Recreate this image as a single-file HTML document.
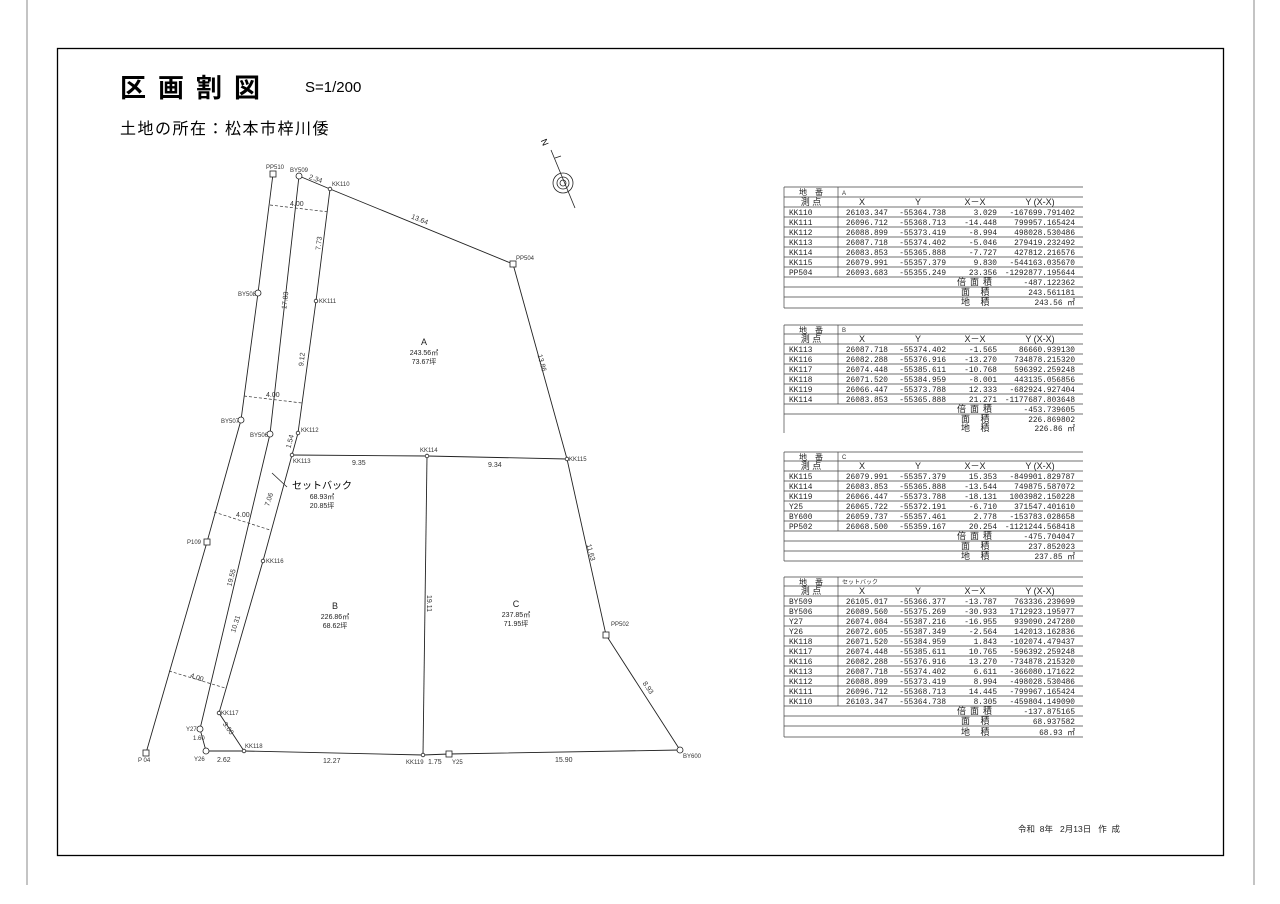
<!DOCTYPE html>
<html><head><meta charset="utf-8"><style>
html,body{margin:0;padding:0;background:#fff}
svg{display:block}
.t{font-family:"Liberation Mono","Noto Sans CJK JP",monospace;font-size:7.8px;fill:#222}
.h{font-family:"Liberation Sans","Noto Sans CJK JP",sans-serif;font-size:9px;fill:#222}
.s{font-family:"Liberation Sans","Noto Sans CJK JP",sans-serif;font-size:6px;fill:#333}
.d{font-family:"Liberation Sans",sans-serif;font-size:7px;fill:#333}
.m{font-family:"Liberation Sans","Noto Sans CJK JP",sans-serif;font-size:7px;fill:#222;text-anchor:middle}
</style></head><body>
<svg width="1280" height="904" viewBox="0 0 1280 904" xmlns="http://www.w3.org/2000/svg">
<line x1="27" y1="0" x2="27" y2="885" stroke="#888" stroke-width="1"/>
<line x1="1254" y1="0" x2="1254" y2="885" stroke="#888" stroke-width="1"/>
<rect x="57.5" y="48.5" width="1166" height="807" fill="none" stroke="#000" stroke-width="1.3"/>
<text x="120" y="97" font-family="Liberation Sans,Noto Sans CJK JP,sans-serif" font-size="26" font-weight="bold" letter-spacing="12">区画割図</text>
<text x="305" y="92" font-family="Liberation Sans,sans-serif" font-size="15">S=1/200</text>
<text x="120" y="134" font-family="Liberation Sans,Noto Sans CJK JP,sans-serif" font-size="16" letter-spacing="1.5">土地の所在：松本市梓川倭</text>

<g stroke="#222" fill="none" stroke-width="0.8">
<line x1="551" y1="150" x2="575" y2="208"/>
<circle cx="563" cy="183" r="10"/><circle cx="563" cy="183" r="6"/><circle cx="563" cy="183" r="3"/>
<path d="M555 158 l6 -2"/>
</g>
<text x="541" y="146" font-family="Liberation Sans,sans-serif" font-size="9" transform="rotate(67 545 143)">N</text>

<g stroke="#222" fill="none" stroke-width="0.9">
<polyline points="273,174 258,293 241,420 207,542 146,753"/>
<polyline points="299,176 270,434 200,729 206,751"/>
<polyline points="206,751 244,751 423,755 449,754 680,750"/>
<polyline points="299,176 330,189 513,264 567,459 606,635 680,750"/>
<polyline points="330,189 316,301 298,433 292,455 263,561 219,713 244,751"/>
<polyline points="292,455 427,456 567,459"/>
<line x1="427" y1="456" x2="423" y2="755"/>
</g>
<g stroke="#333" stroke-width="0.7" stroke-dasharray="3,2">
<line x1="270" y1="205" x2="329" y2="212"/>
<line x1="244" y1="396" x2="302" y2="403"/>
<line x1="214" y1="512" x2="270" y2="530"/>
<line x1="169" y1="671" x2="225" y2="688"/>
</g>
<line x1="272" y1="473" x2="287" y2="487" stroke="#222" stroke-width="0.8"/>
<g fill="#fff" stroke="#222" stroke-width="0.8">
<rect x="270" y="171" width="6" height="6"/><rect x="510" y="261" width="6" height="6"/><rect x="603" y="632" width="6" height="6"/>
<rect x="204" y="539" width="6" height="6"/><rect x="143" y="750" width="6" height="6"/><rect x="446" y="751" width="6" height="6"/>
<circle cx="299" cy="176" r="3"/><circle cx="258" cy="293" r="3"/><circle cx="241" cy="420" r="3"/><circle cx="270" cy="434" r="3"/>
<circle cx="200" cy="729" r="3"/><circle cx="206" cy="751" r="3"/><circle cx="680" cy="750" r="3"/>
<circle cx="330" cy="189" r="1.8"/><circle cx="316" cy="301" r="1.8"/><circle cx="298" cy="433" r="1.8"/><circle cx="292" cy="455" r="1.8"/>
<circle cx="263" cy="561" r="1.8"/><circle cx="219" cy="713" r="1.8"/><circle cx="244" cy="751" r="1.8"/><circle cx="427" cy="456" r="1.8"/>
<circle cx="567" cy="459" r="1.8"/><circle cx="423" cy="755" r="1.8"/>
</g>
<g class="s">
<text x="266" y="169">PP510</text><text x="290" y="172">BY509</text><text x="332" y="186">KK110</text><text x="516" y="260">PP504</text>
<text x="238" y="296">BY508</text><text x="319" y="303">KK111</text><text x="221" y="423">BY507</text><text x="250" y="437">BY506</text>
<text x="301" y="432">KK112</text><text x="293" y="463">KK113</text><text x="420" y="452">KK114</text><text x="569" y="461">KK115</text>
<text x="266" y="563">KK116</text><text x="187" y="544">P109</text><text x="611" y="626">PP502</text><text x="221" y="715">KK117</text>
<text x="186" y="731">Y27</text><text x="193" y="740">1.60</text><text x="138" y="762">P 04</text><text x="194" y="761">Y26</text><text x="245" y="748">KK118</text>
<text x="406" y="764">KK119</text><text x="452" y="764">Y25</text><text x="683" y="758">BY600</text>
</g>
<g class="d">
<text x="308" y="181" transform="rotate(20 315 181)">2.34</text>
<text x="290" y="206">4.00</text>
<text x="410" y="222" transform="rotate(22 420 222)">13.64</text>
<text x="312" y="247" transform="rotate(-83 318 244)">7.73</text>
<text x="278" y="306" transform="rotate(-83 284 303)">17.83</text>
<text x="295" y="363" transform="rotate(-83 301 360)">9.12</text>
<text x="536" y="363" transform="rotate(75 542 360)">13.86</text>
<text x="266" y="397">4.00</text>
<text x="283" y="445" transform="rotate(-75 289 442)">1.54</text>
<text x="352" y="465">9.35</text><text x="488" y="467">9.34</text>
<text x="262" y="503" transform="rotate(-72 268 500)">7.06</text>
<text x="236" y="517">4.00</text>
<text x="584" y="552" transform="rotate(75 590 550)">11.63</text>
<text x="220" y="580" transform="rotate(-75 230 576)">19.55</text>
<text x="227" y="630" transform="rotate(-72 233 626)">10.31</text>
<text x="420" y="606" transform="rotate(90 429 604)">19.11</text>
<text x="190" y="680" transform="rotate(18 198 678)">4.00</text>
<text x="641" y="690" transform="rotate(55 648 688)">8.93</text>
<text x="222" y="729" transform="rotate(55 227 727)">3.00</text>
<text x="217" y="762">2.62</text><text x="323" y="763">12.27</text><text x="428" y="764">1.75</text><text x="555" y="762">15.90</text>
</g>
<text x="292" y="489" font-family="Liberation Sans,Noto Sans CJK JP,sans-serif" font-size="10">セットバック</text>
<g class="m">
<text x="322" y="499">68.93㎡</text><text x="322" y="508">20.85坪</text>
<text x="424" y="345" font-size="9">A</text><text x="424" y="355">243.56㎡</text><text x="424" y="364">73.67坪</text>
<text x="335" y="609" font-size="9">B</text><text x="335" y="619">226.86㎡</text><text x="335" y="628">68.62坪</text>
<text x="516" y="607" font-size="9">C</text><text x="516" y="617">237.85㎡</text><text x="516" y="626">71.95坪</text>
</g>

<g stroke="#444" stroke-width="0.7" fill="none">
<path d="M784 187H1083M784 197H1083M784 207H1083M784 217H1083M784 227H1083M784 237H1083M784 247H1083M784 257H1083M784 267H1083M784 277H1083M784 287H1083M784 297H1083M784 308H1083M784 187V308M838 187V277"/>
<path d="M784 325H1083M784 334H1083M784 344H1083M784 354H1083M784 364H1083M784 374H1083M784 384H1083M784 394H1083M784 404H1083M784 414H1083M784 325V433M838 325V404"/>
<path d="M784 452H1083M784 461H1083M784 471H1083M784 481H1083M784 491H1083M784 501H1083M784 511H1083M784 521H1083M784 531H1083M784 541H1083M784 551H1083M784 561H1083M784 452V561M838 452V531"/>
<path d="M784 577H1083M784 586H1083M784 596H1083M784 606H1083M784 616H1083M784 626H1083M784 636H1083M784 646H1083M784 656H1083M784 666H1083M784 676H1083M784 686H1083M784 696H1083M784 706H1083M784 716H1083M784 726H1083M784 737H1083M784 577V737M838 577V706"/>
</g>

<g class="h" text-anchor="middle">
<text x="811" y="195" font-size="8">地　番</text><text x="811" y="205">測 点</text><text x="862" y="205">X</text><text x="918" y="205">Y</text><text x="975" y="205">X－X</text><text x="1040" y="205">Y (X-X)</text>
<text x="811" y="333" font-size="8">地　番</text><text x="811" y="342">測 点</text><text x="862" y="342">X</text><text x="918" y="342">Y</text><text x="975" y="342">X－X</text><text x="1040" y="342">Y (X-X)</text>
<text x="811" y="460" font-size="8">地　番</text><text x="811" y="469">測 点</text><text x="862" y="469">X</text><text x="918" y="469">Y</text><text x="975" y="469">X－X</text><text x="1040" y="469">Y (X-X)</text>
<text x="811" y="585" font-size="8">地　番</text><text x="811" y="594">測 点</text><text x="862" y="594">X</text><text x="918" y="594">Y</text><text x="975" y="594">X－X</text><text x="1040" y="594">Y (X-X)</text>
</g>
<g class="s" font-size="7"><text x="842" y="195">A</text><text x="842" y="332">B</text><text x="842" y="459">C</text><text x="842" y="584">セットバック</text></g>

<g class="t" text-anchor="end">
<text y="215"><tspan x="789" text-anchor="start">KK110</tspan><tspan x="888">26103.347</tspan><tspan x="946">-55364.738</tspan><tspan x="997">3.029</tspan><tspan x="1075">-167699.791402</tspan></text>
<text y="225"><tspan x="789" text-anchor="start">KK111</tspan><tspan x="888">26096.712</tspan><tspan x="946">-55368.713</tspan><tspan x="997">-14.448</tspan><tspan x="1075">799957.165424</tspan></text>
<text y="235"><tspan x="789" text-anchor="start">KK112</tspan><tspan x="888">26088.899</tspan><tspan x="946">-55373.419</tspan><tspan x="997">-8.994</tspan><tspan x="1075">498028.530486</tspan></text>
<text y="245"><tspan x="789" text-anchor="start">KK113</tspan><tspan x="888">26087.718</tspan><tspan x="946">-55374.402</tspan><tspan x="997">-5.046</tspan><tspan x="1075">279419.232492</tspan></text>
<text y="255"><tspan x="789" text-anchor="start">KK114</tspan><tspan x="888">26083.853</tspan><tspan x="946">-55365.888</tspan><tspan x="997">-7.727</tspan><tspan x="1075">427812.216576</tspan></text>
<text y="265"><tspan x="789" text-anchor="start">KK115</tspan><tspan x="888">26079.991</tspan><tspan x="946">-55357.379</tspan><tspan x="997">9.830</tspan><tspan x="1075">-544163.035670</tspan></text>
<text y="275"><tspan x="789" text-anchor="start">PP504</tspan><tspan x="888">26093.683</tspan><tspan x="946">-55355.249</tspan><tspan x="997">23.356</tspan><tspan x="1075">-1292877.195644</tspan></text>
<text y="285"><tspan x="1075">-487.122362</tspan></text><text y="295"><tspan x="1075">243.561181</tspan></text><text y="305"><tspan x="1075">243.56 ㎡</tspan></text>

<text y="352"><tspan x="789" text-anchor="start">KK113</tspan><tspan x="888">26087.718</tspan><tspan x="946">-55374.402</tspan><tspan x="997">-1.565</tspan><tspan x="1075">86660.939130</tspan></text>
<text y="362"><tspan x="789" text-anchor="start">KK116</tspan><tspan x="888">26082.288</tspan><tspan x="946">-55376.916</tspan><tspan x="997">-13.270</tspan><tspan x="1075">734878.215320</tspan></text>
<text y="372"><tspan x="789" text-anchor="start">KK117</tspan><tspan x="888">26074.448</tspan><tspan x="946">-55385.611</tspan><tspan x="997">-10.768</tspan><tspan x="1075">596392.259248</tspan></text>
<text y="382"><tspan x="789" text-anchor="start">KK118</tspan><tspan x="888">26071.520</tspan><tspan x="946">-55384.959</tspan><tspan x="997">-8.001</tspan><tspan x="1075">443135.056856</tspan></text>
<text y="392"><tspan x="789" text-anchor="start">KK119</tspan><tspan x="888">26066.447</tspan><tspan x="946">-55373.788</tspan><tspan x="997">12.333</tspan><tspan x="1075">-682924.927404</tspan></text>
<text y="402"><tspan x="789" text-anchor="start">KK114</tspan><tspan x="888">26083.853</tspan><tspan x="946">-55365.888</tspan><tspan x="997">21.271</tspan><tspan x="1075">-1177687.803648</tspan></text>
<text y="412"><tspan x="1075">-453.739605</tspan></text><text y="422"><tspan x="1075">226.869802</tspan></text><text y="431"><tspan x="1075">226.86 ㎡</tspan></text>

<text y="479"><tspan x="789" text-anchor="start">KK115</tspan><tspan x="888">26079.991</tspan><tspan x="946">-55357.379</tspan><tspan x="997">15.353</tspan><tspan x="1075">-849901.829787</tspan></text>
<text y="489"><tspan x="789" text-anchor="start">KK114</tspan><tspan x="888">26083.853</tspan><tspan x="946">-55365.888</tspan><tspan x="997">-13.544</tspan><tspan x="1075">749875.587072</tspan></text>
<text y="499"><tspan x="789" text-anchor="start">KK119</tspan><tspan x="888">26066.447</tspan><tspan x="946">-55373.788</tspan><tspan x="997">-18.131</tspan><tspan x="1075">1003982.150228</tspan></text>
<text y="509"><tspan x="789" text-anchor="start">Y25</tspan><tspan x="888">26065.722</tspan><tspan x="946">-55372.191</tspan><tspan x="997">-6.710</tspan><tspan x="1075">371547.401610</tspan></text>
<text y="519"><tspan x="789" text-anchor="start">BY600</tspan><tspan x="888">26059.737</tspan><tspan x="946">-55357.461</tspan><tspan x="997">2.778</tspan><tspan x="1075">-153783.028658</tspan></text>
<text y="529"><tspan x="789" text-anchor="start">PP502</tspan><tspan x="888">26068.500</tspan><tspan x="946">-55359.167</tspan><tspan x="997">20.254</tspan><tspan x="1075">-1121244.568418</tspan></text>
<text y="539"><tspan x="1075">-475.704047</tspan></text><text y="549"><tspan x="1075">237.852023</tspan></text><text y="559"><tspan x="1075">237.85 ㎡</tspan></text>

<text y="604"><tspan x="789" text-anchor="start">BY509</tspan><tspan x="888">26105.017</tspan><tspan x="946">-55366.377</tspan><tspan x="997">-13.787</tspan><tspan x="1075">763336.239699</tspan></text>
<text y="614"><tspan x="789" text-anchor="start">BY506</tspan><tspan x="888">26089.560</tspan><tspan x="946">-55375.269</tspan><tspan x="997">-30.933</tspan><tspan x="1075">1712923.195977</tspan></text>
<text y="624"><tspan x="789" text-anchor="start">Y27</tspan><tspan x="888">26074.084</tspan><tspan x="946">-55387.216</tspan><tspan x="997">-16.955</tspan><tspan x="1075">939090.247280</tspan></text>
<text y="634"><tspan x="789" text-anchor="start">Y26</tspan><tspan x="888">26072.605</tspan><tspan x="946">-55387.349</tspan><tspan x="997">-2.564</tspan><tspan x="1075">142013.162836</tspan></text>
<text y="644"><tspan x="789" text-anchor="start">KK118</tspan><tspan x="888">26071.520</tspan><tspan x="946">-55384.959</tspan><tspan x="997">1.843</tspan><tspan x="1075">-102074.479437</tspan></text>
<text y="654"><tspan x="789" text-anchor="start">KK117</tspan><tspan x="888">26074.448</tspan><tspan x="946">-55385.611</tspan><tspan x="997">10.765</tspan><tspan x="1075">-596392.259248</tspan></text>
<text y="664"><tspan x="789" text-anchor="start">KK116</tspan><tspan x="888">26082.288</tspan><tspan x="946">-55376.916</tspan><tspan x="997">13.270</tspan><tspan x="1075">-734878.215320</tspan></text>
<text y="674"><tspan x="789" text-anchor="start">KK113</tspan><tspan x="888">26087.718</tspan><tspan x="946">-55374.402</tspan><tspan x="997">6.611</tspan><tspan x="1075">-366080.171622</tspan></text>
<text y="684"><tspan x="789" text-anchor="start">KK112</tspan><tspan x="888">26088.899</tspan><tspan x="946">-55373.419</tspan><tspan x="997">8.994</tspan><tspan x="1075">-498028.530486</tspan></text>
<text y="694"><tspan x="789" text-anchor="start">KK111</tspan><tspan x="888">26096.712</tspan><tspan x="946">-55368.713</tspan><tspan x="997">14.445</tspan><tspan x="1075">-799967.165424</tspan></text>
<text y="704"><tspan x="789" text-anchor="start">KK110</tspan><tspan x="888">26103.347</tspan><tspan x="946">-55364.738</tspan><tspan x="997">8.305</tspan><tspan x="1075">-459804.149090</tspan></text>
<text y="714"><tspan x="1075">-137.875165</tspan></text><text y="724"><tspan x="1075">68.937582</tspan></text><text y="735"><tspan x="1075">68.93 ㎡</tspan></text>
</g>
<g class="h" font-size="8" letter-spacing="4">
<text x="957" y="285">倍面積</text><text x="961" y="295">面 積</text><text x="961" y="305">地 積</text>
<text x="957" y="412">倍面積</text><text x="961" y="422">面 積</text><text x="961" y="431">地 積</text>
<text x="957" y="539">倍面積</text><text x="961" y="549">面 積</text><text x="961" y="559">地 積</text>
<text x="957" y="714">倍面積</text><text x="961" y="724">面 積</text><text x="961" y="735">地 積</text>
</g>
<text x="1018" y="832" font-family="Liberation Sans,Noto Sans CJK JP,sans-serif" font-size="8.5" fill="#222" xml:space="preserve">令和  8年   2月13日   作  成</text>
</svg>
</body></html>
